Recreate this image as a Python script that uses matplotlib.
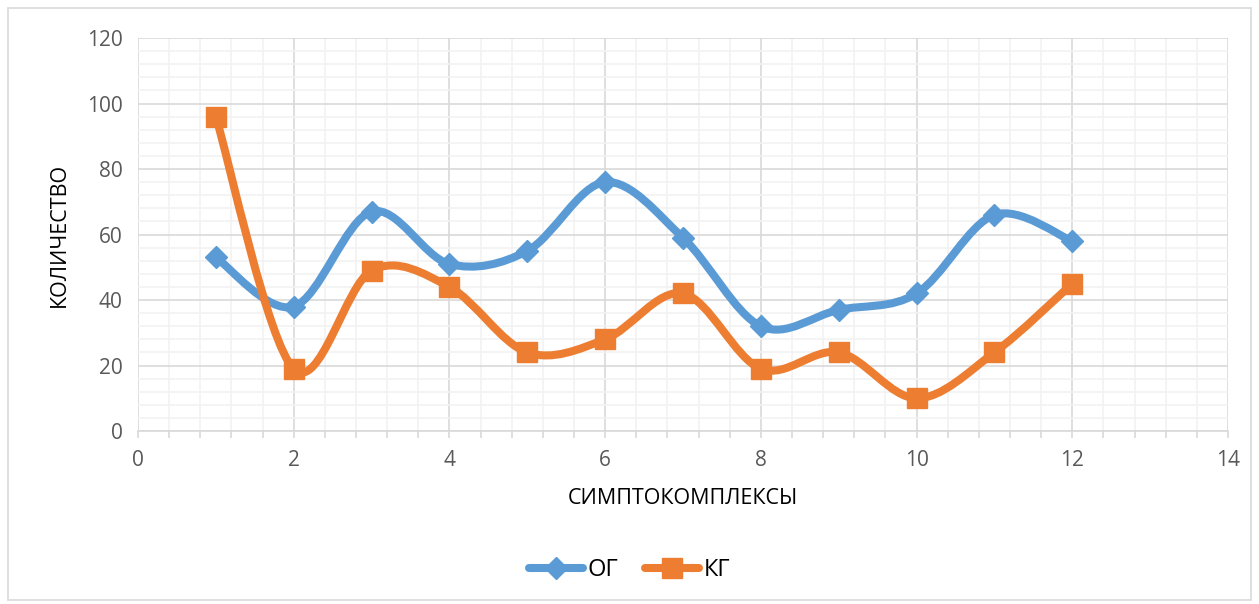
import matplotlib.pyplot as plt
import numpy as np
from matplotlib.path import Path
from matplotlib.patches import PathPatch, Rectangle
from matplotlib.lines import Line2D
from matplotlib.ticker import MultipleLocator

plt.rcParams['font.family'] = ['Open Sans', 'DejaVu Sans']

x = [1, 2, 3, 4, 5, 6, 7, 8, 9, 10, 11, 12]
og = [53, 38, 67, 51, 55, 76, 59, 32, 37, 42, 66, 58]
kg = [96, 19, 49, 44, 24, 28, 42, 19, 24, 10, 24, 45]

blue = '#5b9bd5'
orange = '#ed7d31'


def smooth_path(xs, ys):
    # cubic bezier through the points, Excel-like smoothing
    p = np.column_stack([xs, ys]).astype(float)
    n = len(p)
    verts = [p[0]]
    codes = [Path.MOVETO]
    for i in range(n - 1):
        p0 = p[i - 1] if i > 0 else p[i]
        p3 = p[i + 2] if i + 2 < n else p[i + 1]
        c1 = p[i] + (p[i + 1] - p0) / 6
        c2 = p[i + 1] - (p3 - p[i]) / 6
        verts += [c1, c2, p[i + 1]]
        codes += [Path.CURVE4] * 3
    return Path(verts, codes)


fig = plt.figure(figsize=(12.59, 6.04), dpi=100)
ax = fig.add_axes([0.1096, 0.2864, 0.8658, 0.6506])

fig.patches.append(Rectangle((8 / 1259, 4 / 604), 1243 / 1259, 592 / 604,
                             transform=fig.transFigure, fill=False,
                             edgecolor='#d9d9d9', lw=1.2))

ax.set_xlim(0, 14)
ax.set_ylim(0, 120)
ax.xaxis.set_major_locator(MultipleLocator(2))
ax.xaxis.set_minor_locator(MultipleLocator(0.4))
ax.yaxis.set_major_locator(MultipleLocator(20))
ax.yaxis.set_minor_locator(MultipleLocator(4))
ax.grid(which='major', color='#d9d9d9', lw=1.2)
ax.grid(which='minor', color='#f2f2f2', lw=1.2)
ax.set_axisbelow(True)

for s in ['top', 'right', 'left']:
    ax.spines[s].set_visible(False)
ax.spines['bottom'].set_color('#d9d9d9')
ax.spines['bottom'].set_linewidth(1.2)

ax.tick_params(axis='x', which='both', length=5, color='#d9d9d9', width=1.2,
               labelsize=15, labelcolor='#595959', pad=9)
ax.tick_params(axis='y', which='both', length=0, labelsize=15,
               labelcolor='#595959', pad=11)

for ys, c, m, ms in [(og, blue, 'D', 11), (kg, orange, 's', 15)]:
    ax.add_patch(PathPatch(smooth_path(x, ys), fill=False, edgecolor=c,
                           lw=5.8, capstyle='round', joinstyle='round',
                           zorder=3))
    ax.plot(x, ys, linestyle='none', marker=m, markersize=ms, color=c,
            zorder=4)

ax.set_xlabel('СИМПТОКОМПЛЕКСЫ', fontsize=15.5, labelpad=12)
ax.set_ylabel('КОЛИЧЕСТВО', fontsize=15.5, labelpad=12)

handles = [
    Line2D([], [], color=blue, lw=5.8, marker='D', markersize=11,
           solid_capstyle='round'),
    Line2D([], [], color=orange, lw=5.8, marker='s', markersize=15,
           solid_capstyle='round'),
]
fig.legend(handles, ['ОГ', 'КГ'], loc='center', bbox_to_anchor=(0.5, 0.056),
           ncol=2, frameon=False, fontsize=17, handlelength=2.3,
           columnspacing=1.1, handletextpad=0.2)

fig.savefig('out.png', dpi=100)
